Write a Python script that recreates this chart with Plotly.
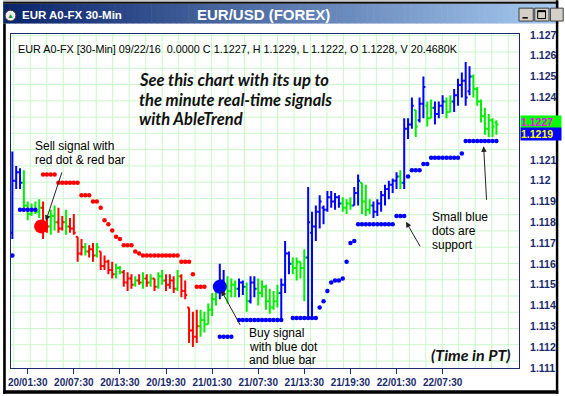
import plotly.graph_objects as go
import pandas as pd

# ---------------- data (EUR/USD 30-min bars) ----------------
times = pd.date_range("2016-09-19 23:30", periods=127, freq="30min")

# B = blue (up trend), G = green (neutral), R = red (down trend)
bar_color = ("BBBGGGGGRR" "GGRRGRRRRG" "RRGRRRRGGR" "RRGRGRGRGG" "RRRGRRRRRG"
             "GGGGBBGGGB" "BGBBGGGGGG" "BBBGGGGBBB" "BBBBBBGGGB" "BGGGBBBBBB"
             "BGBBBGBBGG" "BBBGGBBBBB" "GGGGGGG")

high = [1.1214, 1.1207, 1.1206, 1.1205, 1.1190, 1.1189, 1.1190, 1.1191, 1.1190, 1.1183,
        1.1186, 1.1188, 1.1187, 1.1183, 1.1186, 1.1182, 1.1184, 1.1173, 1.1172, 1.1170,
        1.1169, 1.1170, 1.1170, 1.1166, 1.1164, 1.1162, 1.1161, 1.1160, 1.1159, 1.1157,
        1.1156, 1.1155, 1.1154, 1.1155, 1.1156, 1.1155, 1.1155, 1.1153, 1.1156, 1.1157,
        1.1155, 1.1155, 1.1154, 1.1157, 1.1155, 1.1152, 1.1139, 1.1137, 1.1138, 1.1138,
        1.1137, 1.1141, 1.1146, 1.1149, 1.1160, 1.1157, 1.1154, 1.1153, 1.1152, 1.1153,
        1.1152, 1.1151, 1.1154, 1.1154, 1.1153, 1.1152, 1.1150, 1.1148, 1.1147, 1.1150,
        1.1153, 1.1171, 1.1166, 1.1163, 1.1163, 1.1161, 1.1167, 1.1197, 1.1185, 1.1188,
        1.1193, 1.1188, 1.1195, 1.1195, 1.1194, 1.1193, 1.1192, 1.1191, 1.1192, 1.1197,
        1.1203, 1.1199, 1.1198, 1.1191, 1.1190, 1.1191, 1.1195, 1.1198, 1.1200, 1.1201,
        1.1204, 1.1205, 1.1230, 1.1230, 1.1240, 1.1234, 1.1240, 1.1250, 1.1238, 1.1239,
        1.1238, 1.1238, 1.1241, 1.1240, 1.1241, 1.1244, 1.1249, 1.1252, 1.1257, 1.1255,
        1.1251, 1.1245, 1.1239, 1.1235, 1.1232, 1.1230, 1.1229]

low = [1.1172, 1.1196, 1.1196, 1.1186, 1.1181, 1.1183, 1.1184, 1.1182, 1.1172, 1.1175,
       1.1174, 1.1176, 1.1175, 1.1176, 1.1174, 1.1175, 1.1174, 1.1161, 1.1164, 1.1164,
       1.1163, 1.1161, 1.1163, 1.1157, 1.1157, 1.1155, 1.1153, 1.1153, 1.1155, 1.1149,
       1.1147, 1.1148, 1.1149, 1.1150, 1.1148, 1.1149, 1.1149, 1.1147, 1.1148, 1.1150,
       1.1147, 1.1148, 1.1146, 1.1147, 1.1144, 1.1143, 1.1122, 1.1120, 1.1122, 1.1125,
       1.1127, 1.1131, 1.1135, 1.1140, 1.1143, 1.1146, 1.1141, 1.1144, 1.1144, 1.1144,
       1.1145, 1.1137, 1.1141, 1.1144, 1.1140, 1.1144, 1.1138, 1.1136, 1.1138, 1.1139,
       1.1133, 1.1146, 1.1155, 1.1155, 1.1152, 1.1153, 1.1142, 1.1134, 1.1134, 1.1171,
       1.1177, 1.1179, 1.1185, 1.1187, 1.1186, 1.1187, 1.1185, 1.1184, 1.1186, 1.1188,
       1.1188, 1.1184, 1.1183, 1.1184, 1.1182, 1.1183, 1.1185, 1.1188, 1.1191, 1.1194,
       1.1196, 1.1196, 1.1196, 1.1220, 1.1225, 1.1221, 1.1228, 1.1230, 1.1226, 1.1230,
       1.1227, 1.1230, 1.1232, 1.1230, 1.1233, 1.1233, 1.1236, 1.1240, 1.1236, 1.1241,
       1.1240, 1.1236, 1.1228, 1.1222, 1.1221, 1.1221, 1.1222]

open_ = [1.1175, 1.1200, 1.1204, 1.1199, 1.1188, 1.1184, 1.1186, 1.1185, 1.1187, 1.1176,
         1.1178, 1.1183, 1.1180, 1.1177, 1.1180, 1.1178, 1.1177, 1.1173, 1.1165, 1.1168,
         1.1166, 1.1167, 1.1164, 1.1166, 1.1159, 1.1161, 1.1157, 1.1155, 1.1158, 1.1156,
         1.1151, 1.1153, 1.1150, 1.1152, 1.1151, 1.1153, 1.1151, 1.1153, 1.1149, 1.1154,
         1.1152, 1.1150, 1.1152, 1.1148, 1.1154, 1.1147, 1.1139, 1.1128, 1.1125, 1.1130,
         1.1133, 1.1131, 1.1138, 1.1143, 1.1147, 1.1152, 1.1150, 1.1147, 1.1150, 1.1148,
         1.1151, 1.1149, 1.1142, 1.1151, 1.1148, 1.1146, 1.1149, 1.1142, 1.1139, 1.1142,
         1.1146, 1.1150, 1.1165, 1.1160, 1.1158, 1.1161, 1.1158, 1.1163, 1.1175, 1.1178,
         1.1185, 1.1187, 1.1186, 1.1192, 1.1190, 1.1192, 1.1189, 1.1187, 1.1189, 1.1188,
         1.1194, 1.1199, 1.1190, 1.1186, 1.1188, 1.1185, 1.1189, 1.1193, 1.1196, 1.1198,
         1.1200, 1.1202, 1.1199, 1.1225, 1.1227, 1.1234, 1.1229, 1.1237, 1.1236, 1.1230,
         1.1235, 1.1232, 1.1236, 1.1238, 1.1233, 1.1238, 1.1241, 1.1246, 1.1248, 1.1243,
         1.1250, 1.1244, 1.1238, 1.1231, 1.1225, 1.1229, 1.1228]

close = [1.1200, 1.1204, 1.1199, 1.1188, 1.1184, 1.1186, 1.1185, 1.1187, 1.1176, 1.1178,
         1.1183, 1.1180, 1.1177, 1.1180, 1.1178, 1.1177, 1.1175, 1.1165, 1.1168, 1.1166,
         1.1167, 1.1164, 1.1168, 1.1159, 1.1161, 1.1157, 1.1155, 1.1158, 1.1156, 1.1151,
         1.1153, 1.1150, 1.1152, 1.1151, 1.1153, 1.1151, 1.1153, 1.1149, 1.1154, 1.1152,
         1.1150, 1.1152, 1.1148, 1.1154, 1.1147, 1.1145, 1.1128, 1.1125, 1.1130, 1.1133,
         1.1131, 1.1138, 1.1143, 1.1147, 1.1152, 1.1150, 1.1147, 1.1150, 1.1148, 1.1151,
         1.1149, 1.1142, 1.1151, 1.1148, 1.1146, 1.1149, 1.1142, 1.1139, 1.1142, 1.1146,
         1.1150, 1.1165, 1.1160, 1.1158, 1.1161, 1.1158, 1.1163, 1.1180, 1.1178, 1.1185,
         1.1190, 1.1186, 1.1192, 1.1190, 1.1192, 1.1189, 1.1187, 1.1189, 1.1188, 1.1194,
         1.1200, 1.1190, 1.1186, 1.1188, 1.1185, 1.1189, 1.1193, 1.1196, 1.1198, 1.1200,
         1.1202, 1.1199, 1.1225, 1.1227, 1.1236, 1.1226, 1.1237, 1.1245, 1.1230, 1.1235,
         1.1232, 1.1236, 1.1238, 1.1233, 1.1238, 1.1241, 1.1246, 1.1248, 1.1240, 1.1250,
         1.1244, 1.1238, 1.1231, 1.1225, 1.1229, 1.1226, 1.1227]

# small red dots = resistance, small blue dots = support (None = no dot)
resistance = ([None] * 8 + [1.1203] * 4 + [1.1199] * 6 + [1.1193] * 3 + [1.1190] * 2 +
              [1.1187, 1.1181, 1.1179, 1.1176, 1.1173, 1.1172] + [1.1169] * 3 +
              [1.1166, 1.1165] + [1.1164] * 10 + [1.1161] * 3 + [1.1155] + [1.1149] * 3 +
              [None] * 76)

support = ([1.1164, None] + [1.1186] * 5 + [None] * 47 + [1.1125] * 4 + [None] +
           [1.1133] * 12 + [None] * 2 + [1.1134] * 7 +
           [1.1139, 1.1142, 1.1147, 1.1151, 1.1152, 1.1152, 1.1153, 1.1161, 1.1170, 1.1171] +
           [1.1179] * 10 + [1.1183] * 3 + [1.1202] + [1.1205] * 3 + [1.1208] * 2 +
           [1.1211] * 8 + [1.1213] + [1.1219] * 9)

sell_signal_time = ["2016-09-20 03:15"]
sell_signal_price = [1.1178]
buy_signal_time = ["2016-09-21 02:30"]
buy_signal_price = [1.1149]

# axis labels
time_ticks = ["2016-09-20 01:30", "2016-09-20 07:30", "2016-09-20 13:30", "2016-09-20 19:30",
              "2016-09-21 01:30", "2016-09-21 07:30", "2016-09-21 13:30", "2016-09-21 19:30",
              "2016-09-22 01:30", "2016-09-22 07:30"]
# (1.122 / 1.123 sit under the current-price boxes)
price_ticks = [1.111, 1.112, 1.113, 1.114, 1.115, 1.116, 1.117, 1.118, 1.119,
               1.120, 1.121, 1.124, 1.125, 1.126, 1.127]

last_close_label = "1.1227"
last_support_label = "1.1219"
header = "EUR A0-FX [30-Min] 09/22/16  0.0000 C 1.1227, H 1.1229, L 1.1222, O 1.1228, V 20.4680K"

# ---------------- styling ----------------
BLUE, GREEN, RED = "#0000ff", "#00ee00", "#ff0000"
NAVY = "#1b2a6b"
GRID = "#c8f8c8"
ARIAL = "Liberation Sans"

W, H = 565, 396
ML, MR, MT, MB = 8, 40, 34, 26


def PX(x):
    return (x - ML) / (W - ML - MR)


def PY(y):
    return (H - MB - y) / (H - MT - MB)


fig = go.Figure()

for code, col in (("G", GREEN), ("R", RED), ("B", BLUE)):
    idx = [i for i, c in enumerate(bar_color) if c == code]
    fig.add_trace(go.Ohlc(
        x=[times[i] for i in idx],
        open=[open_[i] for i in idx], high=[high[i] for i in idx],
        low=[low[i] for i in idx], close=[close[i] for i in idx],
        increasing=dict(line=dict(color=col, width=2)),
        decreasing=dict(line=dict(color=col, width=2)),
        tickwidth=0.5, hoverinfo="skip", showlegend=False))

fig.add_trace(go.Scatter(x=times, y=resistance, mode="markers",
                         marker=dict(color=RED, size=4.5), hoverinfo="skip", showlegend=False))
fig.add_trace(go.Scatter(x=times, y=support, mode="markers",
                         marker=dict(color=BLUE, size=4.5), hoverinfo="skip", showlegend=False))
fig.add_trace(go.Scatter(x=sell_signal_time, y=sell_signal_price, mode="markers",
                         marker=dict(color=RED, size=14), hoverinfo="skip", showlegend=False))
fig.add_trace(go.Scatter(x=buy_signal_time, y=buy_signal_price, mode="markers",
                         marker=dict(color=BLUE, size=14), hoverinfo="skip", showlegend=False))

shapes = []
# light green chart grid (screen grid, independent of data)
gx = 10.9
while gx < 525:
    shapes.append(dict(type="line", xref="paper", yref="paper", x0=PX(gx), x1=PX(gx),
                       y0=0, y1=1, line=dict(color=GRID, width=1), layer="below"))
    gx += 16.77
gy = 363.0
while gy > 34:
    shapes.append(dict(type="line", xref="paper", yref="paper", x0=0, x1=1,
                       y0=PY(gy), y1=PY(gy), line=dict(color=GRID, width=1), layer="below"))
    gy -= 16.36

# window title bar gradient
N = 90
c0, c1 = (10, 36, 106), (166, 202, 240)
for i in range(N):
    t = i / (N - 1)
    col = "rgb(%d,%d,%d)" % tuple(round(a + (b - a) * t) for a, b in zip(c0, c1))
    shapes.append(dict(type="rect", xref="paper", yref="paper",
                       x0=PX(i * W / N), x1=PX((i + 1) * W / N + 0.6),
                       y0=PY(23.5), y1=PY(3.5), fillcolor=col, line=dict(width=0)))


def rect(x0, y0, x1, y1, fill, line=None):
    shapes.append(dict(type="rect", xref="paper", yref="paper", x0=PX(x0), x1=PX(x1),
                       y0=PY(y1), y1=PY(y0), fillcolor=fill,
                       line=dict(width=1 if line else 0, color=line or fill)))


rect(0, 0, W, 1.5, "#b8b8b8")
rect(0, 1.5, W, 3.5, "#101010")
rect(0, 23.5, 2.7, H, "#000000")
rect(562.5, 0, W, H, "#000000")
rect(0, 392.5, W, H, "#000000")
# window buttons
rect(525, 8, 539.5, 21, "#d4d0c8", "#404040")
rect(541, 8, 555.5, 21, "#d4d0c8", "#404040")
rect(557, 8, 570, 21, "#d4d0c8", "#404040")
rect(528.5, 17, 534, 18.5, "#000000")
rect(544, 10.5, 552, 18.5, "#d4d0c8", "#000000")
rect(544, 10.5, 552, 12, "#000000")
# icon
shapes.append(dict(type="circle", xref="paper", yref="paper", x0=PX(2), x1=PX(13),
                   y0=PY(21), y1=PY(10), fillcolor="#eeeeee", line=dict(color="#333", width=1)))

fig.update_layout(shapes=shapes)

ann = []


def text(x, y, s, size, color="#000000", family=ARIAL, xanchor="left", **kw):
    ann.append(dict(x=PX(x), y=PY(y), xref="paper", yref="paper", text=s, showarrow=False,
                    xanchor=xanchor, yanchor="middle",
                    font=dict(family=family, size=size, color=color), **kw))


def arrow(tx, ty, hx, hy):
    ann.append(dict(x=PX(hx), y=PY(hy), xref="paper", yref="paper", text="",
                    showarrow=True, ax=tx - hx, ay=ty - hy, axref="pixel", ayref="pixel",
                    arrowhead=2, arrowsize=1.1, arrowwidth=1, arrowcolor="#222222"))


text(7.5, 15.8, "▲", 7, "#1a9a3a", xanchor="center")
text(17, 14.5, "<b>EUR A0-FX 30-Min</b>", 11.5, "#ffffff")
text(264.5, 14.5, "<b>EUR/USD (FOREX)</b>", 15, "#ffffff", xanchor="center")
text(12.6, 48.6, header, 10.8)

for yy, s in ((80, "See this chart with its up to"),
              (100, "the minute real-time signals"),
              (120, "with AbleTrend")):
    text(136, yy, "<b><i>%s</i></b>" % s, 16.5, "#111111", family="Lato")
text(433, 356, "<b><i>(Time in PT)</i></b>", 16, "#111111", family="Lato")

text(30, 146.7, "Sell signal with", 12)
text(30, 160.5, "red dot &amp; red bar", 12)
text(248, 335, "Buy signal", 12)
text(248, 348.5, "with blue dot", 12)
text(248, 362, "and blue bar", 12)
text(434, 217.7, "Small blue", 12)
text(434, 231.7, "dots are", 12)
text(434, 246.7, "support", 12)

arrow(60, 172, 43.5, 222)
arrow(241.7, 328, 222, 292)
arrow(425, 249, 410, 223)
arrow(492, 202, 489, 147)

ann.append(dict(x=PX(526.5), y=PY(122.5), xref="paper", yref="paper",
                text="<b>%s</b>" % last_close_label, showarrow=False, xanchor="left",
                yanchor="middle", align="left", bgcolor="#00ff00", width=40, height=11.6,
                borderpad=0, font=dict(family=ARIAL, size=10.5, color="#ff00ff")))
ann.append(dict(x=PX(526.5), y=PY(134.2), xref="paper", yref="paper",
                text="<b>%s</b>" % last_support_label, showarrow=False, xanchor="left",
                yanchor="middle", align="left", bgcolor="#0000ff", width=40, height=11.6,
                borderpad=0, font=dict(family=ARIAL, size=10.5, color="#ffff00")))

fig.update_layout(
    annotations=ann,
    width=W, height=H,
    margin=dict(l=ML, r=MR, t=MT, b=MB, pad=0),
    paper_bgcolor="#ffffff", plot_bgcolor="#ffffff",
    showlegend=False,
    xaxis=dict(type="date", range=["2016-09-19 23:19:34", "2016-09-22 17:26:24"],
               rangeslider=dict(visible=False), showgrid=False, zeroline=False,
               tickmode="array", tickvals=time_ticks, tickformat="%d/%H:%M",
               ticks="outside", ticklen=5, tickcolor=NAVY, tickwidth=1,
               tickfont=dict(family=ARIAL, size=10, color=NAVY, weight="bold"),
               showline=True, mirror=True, linecolor=NAVY, linewidth=1),
    yaxis=dict(side="right", range=[1.110995, 1.127048], tickmode="array",
               tickvals=price_ticks, tickformat=".3~f",
               showgrid=False, zeroline=False, ticks="", ticklabelstandoff=8,
               tickfont=dict(family=ARIAL, size=10.5, color=NAVY, weight="bold"),
               showline=True, mirror=True, linecolor=NAVY, linewidth=1),
)

fig.write_html("out.html", config={"displayModeBar": False},
               post_script="document.body.style.margin='0';document.body.style.overflow='hidden';")
